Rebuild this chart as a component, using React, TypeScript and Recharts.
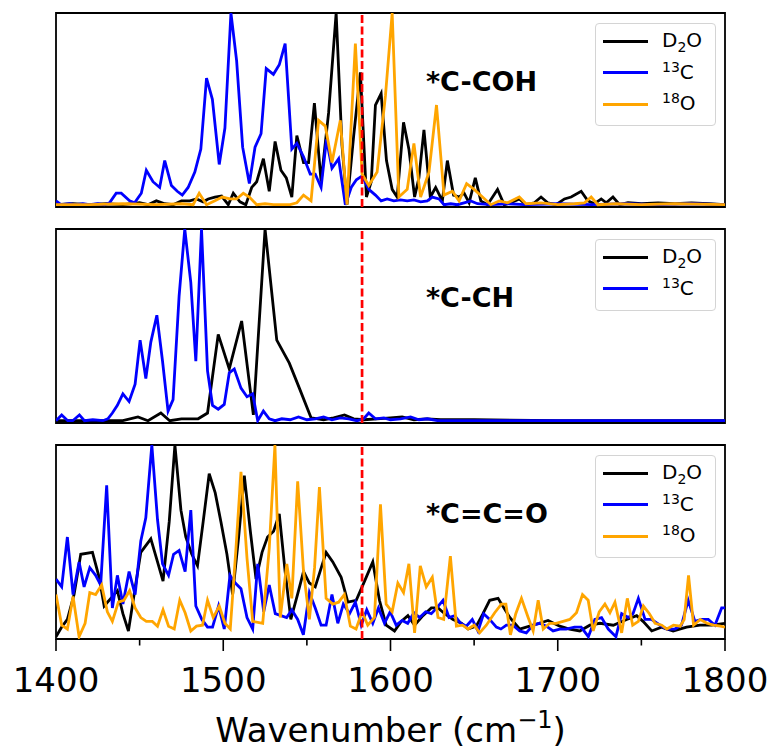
import React from "react";
import {
  LineChart,
  Line,
  XAxis,
  YAxis,
  ReferenceLine,
  ReferenceArea,
  Legend,
  Label,
} from "recharts";

const FONT = "'DejaVu Sans', 'Liberation Sans', sans-serif";

// wavenumber (cm^-1), normalised intensity
const cohD2O = [
  [1400, 0], [1410, 0.005], [1420, 0], [1430, 0.005], [1440, 0], [1450, 0.01], [1455, 0],
  [1460, 0.02], [1465, 0.005], [1470, 0], [1475, 0.02], [1480, 0.02], [1484, 0.03], [1488, 0.015],
  [1491, 0.03], [1495, 0.04], [1499, 0.045], [1503, 0], [1506, 0.06], [1510, 0.015], [1513.5, 0],
  [1517, 0.09], [1520, 0.12], [1524, 0.24], [1527.5, 0.07], [1531, 0.33], [1534.5, 0.18],
  [1537.7, 0.14], [1541, 0.04], [1544, 0.36], [1548, 0.22], [1551, 0.22], [1554.5, 0.53],
  [1558.5, 0.12], [1563, 0.48], [1567.5, 1.0], [1571, 0.31], [1574, 0], [1578, 0.36], [1582, 0.69],
  [1585.6, 0.04], [1588.5, 0.12], [1591, 0.52], [1594.4, 0.58], [1597.6, 0.23], [1601, 0.08],
  [1604, 0.04], [1607.8, 0.43], [1611, 0.29], [1614.4, 0.04], [1617, 0.14], [1620, 0.39],
  [1623.8, 0.04], [1627, 0.09], [1631, 0.02], [1634, 0.23], [1637.7, 0.05], [1641, 0.04],
  [1644, 0.06], [1647, 0.01], [1650.7, 0.14], [1654, 0.02], [1658, 0], [1664, 0.08], [1668, 0],
  [1672, 0.01], [1677, 0.03], [1681, 0], [1686, 0.01], [1690, 0.04], [1694, 0.01], [1699, 0],
  [1704, 0.03], [1708, 0.04], [1714, 0.07], [1718, 0.02], [1722, 0.005], [1726, 0.03], [1729, 0.01],
  [1733, 0.04], [1737, 0], [1742, 0.01], [1750, 0.005], [1760, 0.01], [1770, 0.005], [1780, 0.01],
  [1790, 0.005], [1800, 0],
];
const coh13C = [
  [1400, 0.02], [1403, 0], [1408, 0.005], [1412, 0], [1416, 0.005], [1420, 0], [1425, 0.005],
  [1429, 0], [1432, 0.01], [1436, 0.06], [1439, 0.06], [1444, 0.02], [1447, 0.01], [1451, 0.06],
  [1454, 0.18], [1458, 0.12], [1462, 0.09], [1465, 0.23], [1469, 0.1], [1472.5, 0.07],
  [1475.5, 0.05], [1479, 0.09], [1483, 0.17], [1486.6, 0.29], [1490, 0.66], [1493.5, 0.55],
  [1497.6, 0.21], [1501, 0.4], [1504.6, 1.0], [1508, 0.75], [1511.6, 0.3], [1515.6, 0.11],
  [1519, 0.3], [1522.6, 0.37], [1525.7, 0.71], [1530, 0.68], [1533.5, 0.73], [1537, 0.84],
  [1541, 0.29], [1544, 0.32], [1548, 0.25], [1552, 0.16], [1555, 0.16], [1558.5, 0.09],
  [1561.7, 0.34], [1565, 0.19], [1569, 0.24], [1573, 0], [1576.5, 0.09], [1579.6, 0.13],
  [1583, 0.15], [1587, 0.08], [1591, 0.05], [1594.4, 0.02], [1598, 0.03], [1602, 0.02],
  [1606, 0.025], [1610, 0.02], [1614, 0.025], [1618, 0.015], [1622, 0.02], [1625, 0.04],
  [1629, 0.03], [1632, 0], [1636, 0.005], [1640, 0], [1644, 0.01], [1648, 0.02], [1652, 0.005],
  [1660, 0], [1670, 0.005], [1680, 0], [1700, 0.005], [1720, 0], [1740, 0.005], [1760, 0],
  [1780, 0.005], [1800, 0],
];
const coh18O = [
  [1400, 0], [1420, 0], [1440, 0.005], [1460, 0], [1475, 0.005], [1482, 0], [1485.6, 0.06],
  [1490, 0], [1495, 0.02], [1499.4, 0.04], [1504, 0.03], [1508, 0.03], [1512, 0.06],
  [1515.6, 0.04], [1520, 0], [1525, 0.005], [1530, 0], [1540, 0], [1544, 0.01], [1548, 0.05],
  [1552.5, 0.02], [1557, 0.44], [1561, 0.41], [1565, 0.22], [1570, 0.44], [1574, 0], [1579, 0.84],
  [1583, 0.16], [1587, 0.1], [1592, 0.17], [1597, 0.57], [1601, 1.0], [1605, 0.04], [1610, 0.08],
  [1614, 0.32], [1618, 0.04], [1623, 0.17], [1627.5, 0.52], [1632, 0.05], [1637, 0.07],
  [1641, 0.02], [1645.5, 0.11], [1650, 0.08], [1655, 0.04], [1660, 0], [1665, 0.02], [1670, 0.01],
  [1677, 0.04], [1681, 0.005], [1690, 0.01], [1700, 0], [1710, 0.005], [1716, 0.01], [1720, 0.04],
  [1724, 0], [1735, 0.005], [1750, 0], [1770, 0.005], [1800, 0],
];

const chD2O = [
  [1400, 0], [1420, 0], [1440, 0], [1449, 0.02], [1455, 0], [1462.7, 0.04], [1468, 0],
  [1475, 0.01], [1485, 0.01], [1490.6, 0.04], [1497, 0.45], [1503.6, 0.27], [1511, 0.52],
  [1518, 0.03], [1525, 1.0], [1532, 0.42], [1539.5, 0.3], [1545.5, 0.17], [1552.5, 0.015],
  [1560, 0.005], [1566, 0.015], [1572.5, 0.03], [1578, 0.01], [1584, 0.005], [1592, 0.01],
  [1600, 0.015], [1607, 0.02], [1614, 0.005], [1622, 0.01], [1630, 0.005], [1650, 0.005],
  [1700, 0], [1750, 0], [1800, 0],
];
const ch13C = [
  [1400, 0], [1403.4, 0.03], [1407, 0], [1410, 0], [1414, 0.03], [1417, 0], [1422, 0.005],
  [1428, 0], [1431, 0.01], [1433.7, 0.04], [1436.7, 0.08], [1440, 0.14], [1443.7, 0.1],
  [1447.3, 0.19], [1450.3, 0.42], [1453.7, 0.22], [1456.7, 0.41], [1460.3, 0.55], [1463.7, 0.31],
  [1467, 0.05], [1470, 0.11], [1473.6, 0.65], [1477, 1.0], [1480.6, 0.72], [1483.6, 0.31],
  [1487, 1.0], [1490.6, 0.26], [1493.6, 0.08], [1497, 0.06], [1500.6, 0.085], [1503.6, 0.25],
  [1506.6, 0.27], [1510.6, 0.17], [1514.2, 0.125], [1517.6, 0.14], [1520.6, 0], [1524, 0.05],
  [1527.5, 0.01], [1531, 0], [1535, 0.01], [1540, 0.005], [1545, 0.02], [1550, 0.005],
  [1555, 0.01], [1560, 0.02], [1565, 0.005], [1570, 0.015], [1575, 0.01], [1580, 0], [1584, 0.01],
  [1587, 0.04], [1591, 0.01], [1596, 0.015], [1600, 0.005], [1606, 0.01], [1612, 0.02],
  [1617, 0.005], [1622, 0.01], [1628, 0], [1650, 0], [1700, 0], [1750, 0], [1800, 0],
];

const cccD2O = [
  [1400, 0], [1403.4, 0.05], [1406.8, 0.09], [1410.8, 0.22], [1414.8, 0.43], [1421.8, 0.44],
  [1425.8, 0.31], [1428.8, 0.16], [1432.8, 0.2], [1436.7, 0.24], [1440, 0.12], [1443.3, 0.03],
  [1446.7, 0.22], [1450.7, 0.44], [1456.7, 0.51], [1460.7, 0.39], [1464, 0.29], [1467.7, 0.6],
  [1471.1, 1.0], [1474.7, 0.66], [1477.6, 0.52], [1481.2, 0.43], [1484.6, 0.37], [1488, 0.6],
  [1491.6, 0.85], [1495.2, 0.75], [1498.6, 0.6], [1502.2, 0.43], [1505.6, 0.22], [1509.2, 0.52],
  [1512.6, 0.84], [1516.2, 0.55], [1519.6, 0.3], [1523.2, 0.44], [1526.5, 0.52], [1530.1, 0.55],
  [1533.5, 0.64], [1537, 0.34], [1540.4, 0.09], [1544.4, 0.22], [1548, 0.34], [1551.5, 0.28],
  [1555, 0.26], [1561.5, 0.44], [1565.5, 0.39], [1570.5, 0.31], [1574.5, 0.18], [1579.5, 0.19],
  [1584.5, 0.29], [1589.4, 0.39], [1593.4, 0.19], [1597.4, 0.06], [1602.4, 0.03], [1606.4, 0.08],
  [1610.4, 0.11], [1614.4, 0.06], [1619.4, 0.11], [1624.4, 0.15], [1628.4, 0.15], [1632.4, 0.12],
  [1637.4, 0.09], [1642.4, 0.07], [1646.4, 0.04], [1651.3, 0.055], [1655.3, 0.12], [1659.3, 0.19],
  [1664.3, 0.2], [1671.3, 0.1], [1677.2, 0.04], [1683.2, 0.055], [1689, 0.07], [1694.2, 0.085],
  [1701.2, 0.055], [1707, 0.04], [1713.2, 0.03], [1719.2, 0.06], [1725.2, 0.07], [1733.2, 0.06],
  [1741.2, 0.09], [1747.2, 0.11], [1751, 0.08], [1756.2, 0.03], [1762, 0.05], [1769, 0.03],
  [1777, 0.05], [1785, 0.06], [1792, 0.06], [1800, 0.07],
];
const ccc13C = [
  [1400, 0.3], [1403.4, 0.26], [1406.8, 0.52], [1410.2, 0.22], [1413.8, 0.39], [1416.8, 0.26],
  [1420.2, 0.36], [1423.7, 0.32], [1426.7, 0.27], [1430.3, 0.79], [1433.7, 0.15], [1436.7, 0.32],
  [1440, 0.17], [1443.7, 0.34], [1447.3, 0.22], [1450.7, 0.5], [1453.7, 0.62], [1457.3, 1.0],
  [1460.7, 0.61], [1463.7, 0.38], [1467.3, 0.32], [1470.3, 0.43], [1473.6, 0.45], [1477.2, 0.34],
  [1480.6, 0.66], [1483.6, 0.16], [1487.2, 0.09], [1490.6, 0.05], [1493.6, 0.05], [1497.2, 0.16],
  [1500.6, 0.04], [1504, 0.32], [1507.2, 0.28], [1510.6, 0.25], [1514.2, 0.1], [1517.6, 0.04],
  [1520.6, 0.38], [1524.2, 0.13], [1527.5, 0.27], [1531.1, 0.12], [1534.5, 0.11], [1537.9, 0.1],
  [1541, 0.14], [1544.5, 0.09], [1547.9, 0.01], [1551.5, 0.23], [1555, 0.15], [1558.5, 0.06],
  [1561.5, 0.06], [1565, 0.22], [1568.5, 0.07], [1571.8, 0.17], [1575.5, 0.12], [1579, 0.18],
  [1582.5, 0.06], [1585.8, 0.14], [1589.4, 0.07], [1592.8, 0.15], [1596.4, 0.07], [1599.8, 0.13],
  [1603.4, 0.06], [1607, 0.085], [1610.3, 0.07], [1614, 0.125], [1617.4, 0.1], [1621, 0.13],
  [1624.4, 0.12], [1627.7, 0.15], [1631.4, 0.19], [1635, 0.1], [1638.4, 0.11], [1642, 0.07],
  [1645.3, 0.055], [1648.9, 0.09], [1652.3, 0.03], [1655.7, 0.12], [1659.3, 0.09], [1663.3, 0.05],
  [1666, 0.04], [1669.3, 0.06], [1673.2, 0.06], [1677.2, 0.03], [1681.2, 0.02], [1685.2, 0.06],
  [1689.2, 0.07], [1693.2, 0.055], [1697.2, 0.03], [1701.2, 0.04], [1705, 0.04], [1710, 0.05],
  [1714, 0.05], [1718.3, 0], [1722.2, 0.09], [1726.2, 0.1], [1730.2, 0.04], [1734.8, 0],
  [1738.2, 0.12], [1742.2, 0.1], [1745, 0.12], [1748.2, 0.2], [1752.2, 0.09], [1756, 0.09],
  [1761.2, 0.06], [1765, 0.04], [1770, 0.04], [1774, 0.06], [1778, 0.19], [1782, 0.08],
  [1786, 0.09], [1790, 0.09], [1794, 0.06], [1798, 0.15], [1800, 0.15],
];
const ccc18O = [
  [1400, 0.22], [1403.4, 0.06], [1406.8, 0.04], [1410.2, 0.21], [1413.8, 0], [1417.4, 0.07],
  [1420.2, 0.23], [1423.7, 0.22], [1427.3, 0.27], [1430.7, 0.13], [1433.7, 0.08], [1437.3, 0.18],
  [1440.6, 0.19], [1444, 0.24], [1447.3, 0.15], [1450.7, 0.1], [1454, 0.08], [1457.6, 0.08],
  [1460.7, 0.055], [1464, 0.14], [1467.3, 0.055], [1470.7, 0.04], [1474, 0.19], [1477.2, 0.125],
  [1480.6, 0.03], [1484, 0.055], [1487.6, 0.06], [1490.6, 0.19], [1494, 0.1], [1497.6, 0.16],
  [1501, 0.07], [1504.2, 0.04], [1507.6, 0.46], [1510.6, 0.86], [1514.2, 0.41], [1517.6, 0.08],
  [1523.6, 0.07], [1527.5, 0.46], [1530.9, 1.0], [1534.1, 0.1], [1538, 0.38], [1541, 0.2],
  [1544.5, 0.81], [1548, 0.34], [1551.5, 0.09], [1554.6, 0.36], [1557.5, 0.78], [1561.5, 0.2],
  [1565.5, 0.17], [1569, 0.18], [1572.4, 0.22], [1576, 0.055], [1579.4, 0.04], [1583, 0.13],
  [1586.4, 0.06], [1590.4, 0.1], [1594, 0.69], [1597.4, 0.17], [1601, 0.13], [1604.4, 0.28],
  [1607.8, 0.23], [1611, 0.38], [1614.4, 0.02], [1617.8, 0.37], [1621.4, 0.26], [1625, 0.31],
  [1628.4, 0.1], [1631.8, 0.09], [1635.8, 0.42], [1639.4, 0.055], [1643, 0.06], [1646.4, 0.04],
  [1650, 0.06], [1653.3, 0.02], [1657.3, 0.06], [1662.3, 0.125], [1666.3, 0.17], [1669, 0.17],
  [1671.7, 0.01], [1674.9, 0.12], [1678.3, 0.2], [1682.3, 0.1], [1685.3, 0.03], [1688.3, 0.19],
  [1691.3, 0.04], [1695.2, 0.07], [1699, 0.07], [1703.2, 0.08], [1707.2, 0.09], [1711.2, 0.125],
  [1714.8, 0.22], [1718.2, 0.19], [1721.2, 0.03], [1724.8, 0.13], [1728.2, 0.17], [1731.2, 0.125],
  [1734.2, 0.18], [1738.2, 0.02], [1741.6, 0.2], [1744.8, 0.06], [1748.2, 0.08], [1751.2, 0.16],
  [1754.8, 0.12], [1758.2, 0.07], [1762.2, 0.06], [1765.2, 0.04], [1769.2, 0.06], [1773.2, 0.055],
  [1775.6, 0.09], [1778.2, 0.32], [1781.2, 0.06], [1785.2, 0.09], [1789.2, 0.07], [1793.2, 0.06],
  [1797.2, 0.055], [1800, 0.05],
];

const xTicks = [1400, 1450, 1500, 1550, 1600, 1650, 1700, 1750, 1800];
const markerWavenumber = 1583;

const toPts = (arr: number[][]) => arr.map(([x, y]) => ({ x, y }));

type Series = { key: string; color: string; data: number[][] };

function SeriesName({ k }: { k: string }) {
  if (k === "D2O")
    return (
      <span>
        D<span style={{ fontSize: 14, position: "relative", top: 5 }}>2</span>O
      </span>
    );
  const iso = k === "13C" ? ["13", "C"] : ["18", "O"];
  return (
    <span>
      <span style={{ fontSize: 14, position: "relative", top: -7 }}>{iso[0]}</span>
      {iso[1]}
    </span>
  );
}

function LegendBox({ series }: { series: Series[] }) {
  return (
    <div
      style={{
        boxSizing: "border-box",
        width: 121,
        padding: "1.5px 0 5px 0",
        border: "1.5px solid #d4d4d4",
        borderRadius: 4,
        background: "rgba(255,255,255,0.8)",
        fontFamily: FONT,
        fontSize: 20,
        color: "#000",
      }}
    >
      {series.map((s) => (
        <div key={s.key} style={{ height: 31.6, display: "flex", alignItems: "center" }}>
          <div style={{ marginLeft: 6.5, width: 45, height: 2.8, background: s.color }} />
          <div style={{ marginLeft: 14.5, lineHeight: "20px" }}>
            <SeriesName k={s.key} />
          </div>
        </div>
      ))}
    </div>
  );
}

function XTick({ x, y, payload }: any) {
  const major = payload.value % 100 === 0;
  return (
    <g>
      <line x1={x} x2={x} y1={y} y2={y + (major ? 12 : 6.5)} stroke="#000" strokeWidth={1.6} />
      {major && (
        <text x={x} y={y + 53} textAnchor="middle" fontSize={34} fontFamily={FONT} fill="#000">
          {payload.value}
        </text>
      )}
    </g>
  );
}

function XTitle({ viewBox }: any) {
  const cx = viewBox.x + viewBox.width / 2;
  return (
    <text x={cx} y={viewBox.y + 103} textAnchor="middle" fontSize={34} fontFamily={FONT} fill="#000">
      Wavenumber (cm
      <tspan dy={-14} fontSize={24}>−1</tspan>
      <tspan dy={14}>)</tspan>
    </text>
  );
}

function Panel({
  top,
  height,
  title,
  series,
  bottomAxis,
}: {
  top: number;
  height: number;
  title: string;
  series: Series[];
  bottomAxis?: boolean;
}) {
  return (
    <div style={{ position: "absolute", left: 0, top, width: 774, height }}>
      <LineChart
        width={774}
        height={height}
        margin={{ top: 13, right: 49, left: 56, bottom: bottomAxis ? 0 : 13 }}
      >
        <XAxis
          type="number"
          dataKey="x"
          domain={[1400, 1800]}
          allowDataOverflow
          hide={!bottomAxis}
          height={bottomAxis ? 113 : 0}
          ticks={xTicks}
          interval={0}
          tickLine={false}
          axisLine={false}
          tickSize={0}
          tickMargin={0}
          tick={<XTick />}
        >
          {bottomAxis && <Label content={<XTitle />} />}
        </XAxis>
        <YAxis type="number" domain={[-0.012, 1]} allowDataOverflow hide />
        <ReferenceArea
          x1={1400}
          x2={1800}
          y1={-0.012}
          y2={1}
          fill="none"
          stroke="#000"
          strokeWidth={1.8}
          ifOverflow="visible"
        />
        {series.map((s) => (
          <Line
            key={s.key}
            data={toPts(s.data)}
            dataKey="y"
            type="linear"
            stroke={s.color}
            strokeWidth={2.8}
            dot={false}
            activeDot={false}
            isAnimationActive={false}
          />
        ))}
        <ReferenceLine
          x={markerWavenumber}
          stroke="#ff0000"
          strokeWidth={2.7}
          strokeDasharray="8 3.5"
        />
        <Legend
          layout="vertical"
          align="center"
          verticalAlign="middle"
          wrapperStyle={{ left: 595, top: 23, width: 121 }}
          content={() => <LegendBox series={series} />}
        />
      </LineChart>
      <div
        style={{
          position: "absolute",
          left: 426,
          top: 67.5,
          fontFamily: FONT,
          fontWeight: "bold",
          fontSize: 27,
          lineHeight: "27px",
          whiteSpace: "nowrap",
          color: "#000",
        }}
      >
        {title}
      </div>
    </div>
  );
}

export default function App() {
  return (
    <div style={{ position: "absolute", left: 0, top: 0, width: 774, height: 752, background: "#fff" }}>
      <Panel
        top={0}
        height={220}
        title="*C-COH"
        series={[
          { key: "D2O", color: "#000000", data: cohD2O },
          { key: "13C", color: "#0000ff", data: coh13C },
          { key: "18O", color: "#ffa500", data: coh18O },
        ]}
      />
      <Panel
        top={216}
        height={220}
        title="*C-CH"
        series={[
          { key: "D2O", color: "#000000", data: chD2O },
          { key: "13C", color: "#0000ff", data: ch13C },
        ]}
      />
      <Panel
        top={432}
        height={320}
        title="*C=C=O"
        bottomAxis
        series={[
          { key: "D2O", color: "#000000", data: cccD2O },
          { key: "13C", color: "#0000ff", data: ccc13C },
          { key: "18O", color: "#ffa500", data: ccc18O },
        ]}
      />
    </div>
  );
}
